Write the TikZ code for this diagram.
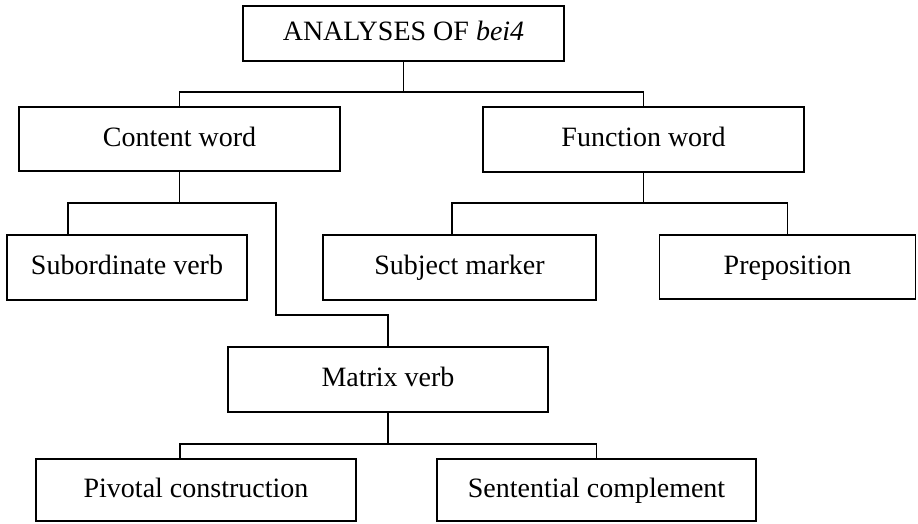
\documentclass[tikz,border=0pt]{standalone}
\usepackage{fontspec}
\setmainfont{Liberation Serif}
\begin{document}
\begin{tikzpicture}[x=1pt,y=-1pt,
  box/.style={draw, line width=1.6pt, inner sep=0pt, align=center,
    text height=20pt, text depth=6pt,
    font=\fontsize{28}{34}\selectfont},
  link/.style={line width=1.6pt}]
\useasboundingbox (0,0) rectangle (918,523);

% boxes of the classification tree
\node[box, minimum width=321pt, minimum height=55pt] (top) at (403.5,33.5) {ANALYSES OF \textit{bei4}};
\node[box, minimum width=321pt, minimum height=64pt] (content) at (179.5,139) {Content word};
\node[box, minimum width=321pt, minimum height=65pt] (function) at (643.5,139.5) {Function word};
\node[box, minimum width=240pt, minimum height=65pt] (subord) at (127,267.5) {Subordinate verb};
\node[box, minimum width=273pt, minimum height=65pt] (subject) at (459.5,267.5) {Subject marker};
\node[box, minimum width=256pt, minimum height=64pt] (prep) at (787.5,267) {Preposition};
\node[box, minimum width=320pt, minimum height=65pt] (matrix) at (388,379.5) {Matrix verb};
\node[box, minimum width=320pt, minimum height=62pt] (pivot) at (196,490) {Pivotal construction};
\node[box, minimum width=319pt, minimum height=62pt] (sent) at (596.5,490) {Sentential complement};

% junction points of the connectors
\coordinate (t1) at (403.5,92);
\coordinate (c1) at (179.5,203);
\coordinate (cR) at (276,203);
\coordinate (cB) at (276,315);
\coordinate (subIn) at (68,235);
\coordinate (f1) at (643.5,203);
\coordinate (subjIn) at (452,235);
\coordinate (m1) at (388,444);
\coordinate (pivIn) at (180,459);

% connectors
\draw[link] (top.south) -- (t1);
\draw[link] (content.north) |- (t1) -| (function.north);
\draw[link] (content.south) -- (c1);
\draw[link] (subIn) |- (cR) -- (cB) -| (matrix.north);
\draw[link] (function.south) -- (f1);
\draw[link] (subjIn) |- (f1) -| (prep.north);
\draw[link] (matrix.south) -- (m1);
\draw[link] (pivIn) |- (m1) -| (sent.north);
\end{tikzpicture}
\end{document}
